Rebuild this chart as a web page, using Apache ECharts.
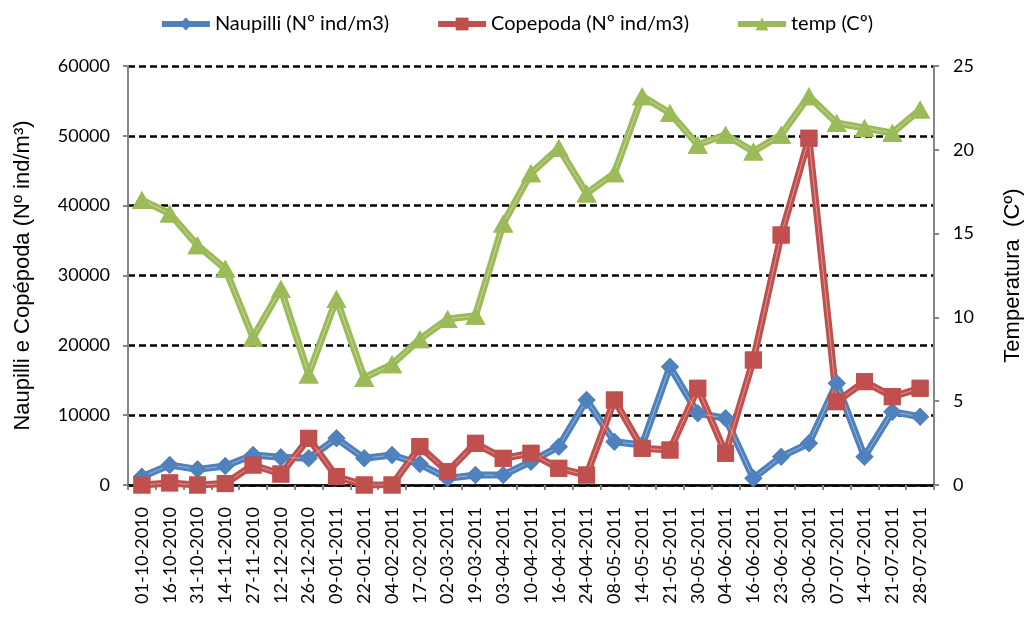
<!DOCTYPE html>
<html>
<head>
<meta charset="utf-8">
<script src="https://cdn.jsdelivr.net/npm/echarts@6/dist/echarts.min.js"></script>
<style>
  html, body { margin: 0; padding: 0; background: #fff; }
  #chart { width: 1032px; height: 621px; }
</style>
</head>
<body>
<div id="chart"></div>
<script>
var categories = ['01-10-2010', '16-10-2010', '31-10-2010', '14-11-2010', '27-11-2010', '12-12-2010',
  '26-12-2010', '09-01-2011', '22-01-2011', '04-02-2011', '17-02-2011', '02-03-2011', '19-03-2011',
  '03-04-2011', '10-04-2011', '16-04-2011', '24-04-2011', '08-05-2011', '14-05-2011', '21-05-2011',
  '30-05-2011', '04-06-2011', '16-06-2011', '23-06-2011', '30-06-2011', '07-07-2011', '14-07-2011',
  '21-07-2011', '28-07-2011'];

var naupilli = [1190, 2860, 2240, 2720, 4300, 3960, 3820, 6680, 3820, 4300, 3000, 950, 1430,
  1430, 3340, 5490, 12170, 6200, 5730, 16940, 10260, 9550, 950, 4060, 5970, 14560, 4060, 10500, 9780];

var copepoda = [0, 300, 0, 200, 2860, 1570, 6680, 1200, 0, 0, 5490, 1910, 5970,
  3820, 4540, 2390, 1430, 12170, 5250, 5010, 13850, 4540, 17900, 35800, 49650, 11930, 14800, 12650, 13850];

var temp = [17.0, 16.2, 14.3, 12.9, 8.8, 11.7, 6.6, 11.1, 6.4, 7.2, 8.7, 9.9, 10.1,
  15.6, 18.6, 20.1, 17.4, 18.6, 23.2, 22.2, 20.3, 20.9, 19.9, 20.9, 23.2, 21.6, 21.3, 21.0, 22.4];

var leftTicks = [0, 10000, 20000, 30000, 40000, 50000, 60000];
var rightTicks = [0, 5, 10, 15, 20, 25];

var chart = echarts.init(document.getElementById('chart'));

var tickFont = 'Lato, "Noto Sans", sans-serif';
var titleFont = '"Liberation Sans", Arial, sans-serif';
var axisGray = '#868686';

// each series is drawn three times: thick line + markers, thin light stripe, markers on top
function makeSeries(name, data, color, symbol, symbolSize, yIndex) {
  return [
    {
      name: name, type: 'line', data: data, yAxisIndex: yIndex,
      symbol: symbol, symbolSize: symbolSize, z: 2,
      lineStyle: { color: color, width: 7 },
      itemStyle: { color: color },
      animation: false
    },
    {
      name: name, type: 'line', data: data, yAxisIndex: yIndex,
      symbol: 'none', z: 3, silent: true,
      lineStyle: { color: 'rgba(255,255,255,0.4)', width: 1 },
      animation: false
    },
    {
      name: name, type: 'line', data: data, yAxisIndex: yIndex,
      symbol: symbol, symbolSize: symbolSize, z: 4,
      lineStyle: { opacity: 0 },
      itemStyle: { color: color },
      animation: false
    }
  ];
}

var series = [].concat(
  makeSeries('Naupilli (Nº ind/m3)', naupilli, '#4F81BD', 'diamond', [18, 18], 0),
  makeSeries('Copepoda (Nº ind/m3)', copepoda, '#C0504D', 'rect', [17, 17], 0),
  makeSeries('temp (Cº)', temp, '#9BBB59', 'triangle', [20, 18], 1)
);

var option = {
  backgroundColor: '#fff',
  animation: false,
  legend: {
    top: 9,
    left: 'center',
    itemGap: 46,
    itemWidth: 48,
    itemHeight: 16,
    lineStyle: { width: 6 },
    data: ['Naupilli (Nº ind/m3)', 'Copepoda (Nº ind/m3)', 'temp (Cº)'],
    textStyle: { fontFamily: tickFont, fontSize: 20, color: '#000' }
  },
  grid: { left: 128, right: 95, top: 66, bottom: 136 },
  xAxis: [
    {
      type: 'category',
      data: categories,
      boundaryGap: true,
      axisLine: { lineStyle: { color: axisGray, width: 2 } },
      axisTick: { show: true, inside: false, length: 5, lineStyle: { color: axisGray, width: 2 } },
      axisLabel: {
        rotate: 90, interval: 0, margin: 22,
        fontFamily: tickFont, fontSize: 18, color: '#000'
      }
    },
    {
      type: 'category',
      data: categories,
      position: 'top',
      axisLine: { show: true, lineStyle: { color: '#000', width: 2.5 } },
      axisTick: { show: false },
      axisLabel: { show: false }
    }
  ],
  yAxis: [
    {
      type: 'value',
      min: leftTicks[0],
      max: leftTicks[leftTicks.length - 1],
      interval: leftTicks[1] - leftTicks[0],
      name: 'Naupilli e Copépoda (Nº ind/m³)',
      nameLocation: 'middle',
      nameRotate: 90,
      nameGap: 94,
      nameTextStyle: { fontFamily: titleFont, fontSize: 22, color: '#000' },
      axisLine: { show: true, lineStyle: { color: axisGray, width: 2 } },
      axisTick: { show: true, length: 5, lineStyle: { color: axisGray, width: 2 } },
      axisLabel: {
        fontFamily: tickFont, fontSize: 18, color: '#000', margin: 18,
        formatter: function (v) { return String(v); }
      },
      splitLine: { show: true, lineStyle: { color: '#000', width: 2.5, type: [7, 4] } }
    },
    {
      type: 'value',
      position: 'right',
      min: rightTicks[0],
      max: rightTicks[rightTicks.length - 1],
      interval: rightTicks[1] - rightTicks[0],
      name: 'Temperatura  (Cº)',
      nameLocation: 'middle',
      nameRotate: 90,
      nameGap: 68,
      nameTextStyle: { fontFamily: titleFont, fontSize: 22, color: '#000' },
      axisLine: { show: true, lineStyle: { color: axisGray, width: 2 } },
      axisTick: { show: true, length: 5, lineStyle: { color: axisGray, width: 2 } },
      axisLabel: { fontFamily: tickFont, fontSize: 18, color: '#000', margin: 19 },
      splitLine: { show: false }
    }
  ],
  series: series
};

chart.setOption(option);
</script>
</body>
</html>
